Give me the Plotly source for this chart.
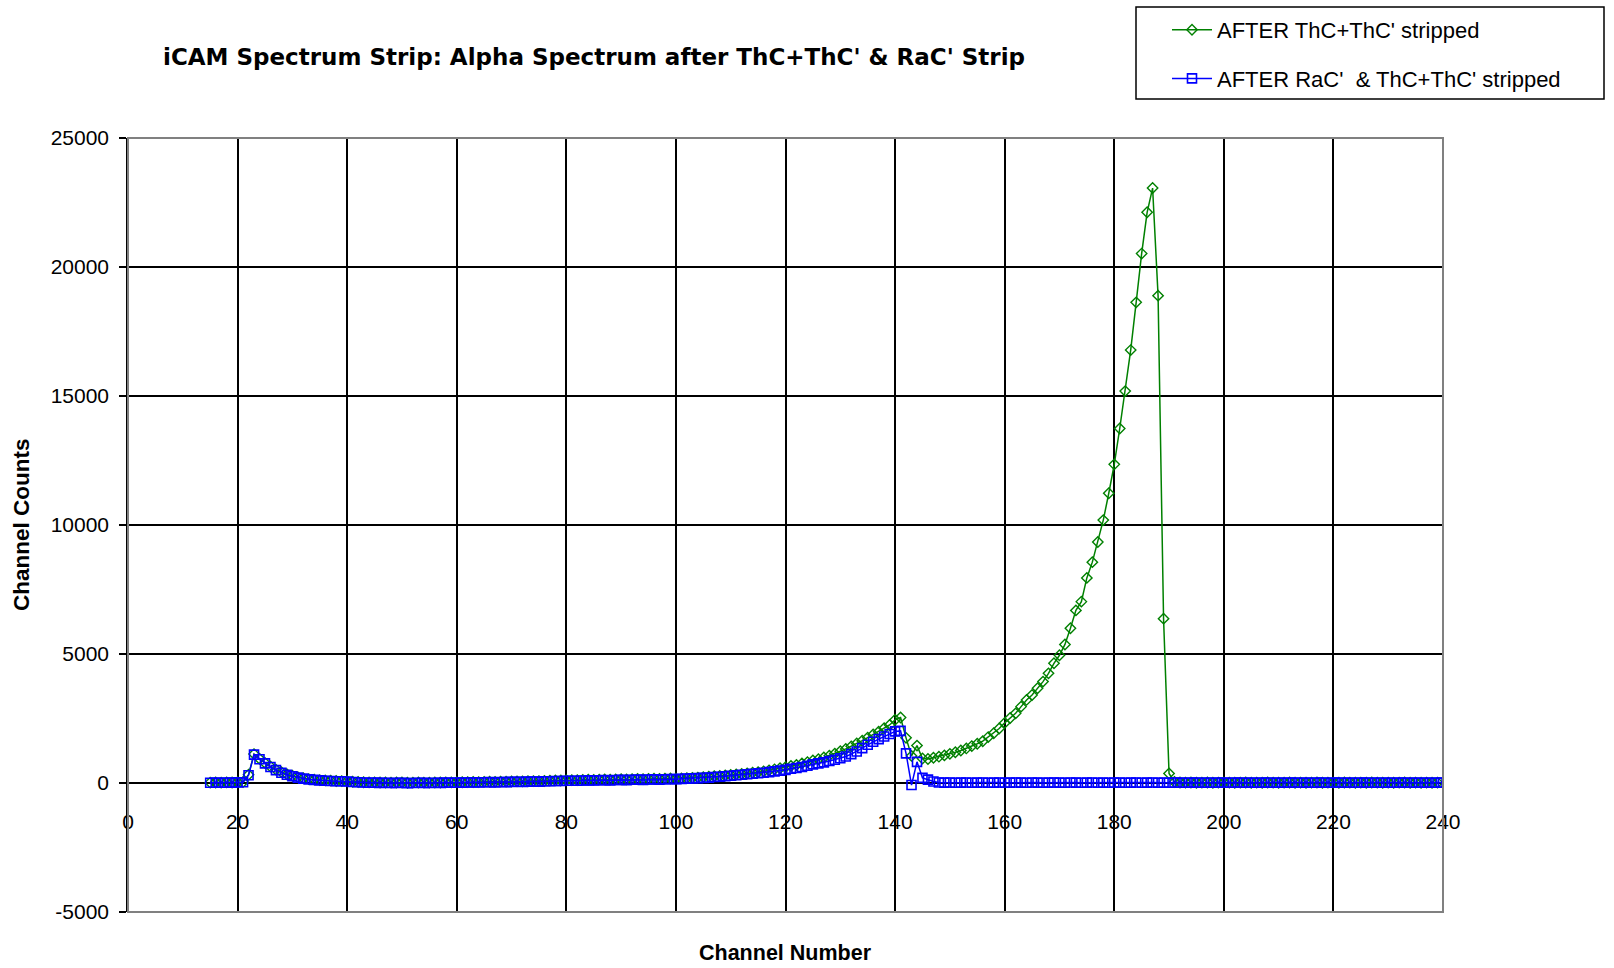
import plotly.graph_objects as go

# Channel numbers of the alpha spectrum
channels = list(range(15, 241))

# Counts per channel after the ThC + ThC' strip
counts_thc = [
    15, 20, 15, 25, 20, 30, 40, 320,
    1120, 940, 780, 640, 520, 420, 340, 280, 225, 185, 150, 130, 110, 100, 90, 80, 75, 70,
    50, 40, 30, 25, 25, 20, 20, 15, 20, 20, 10, 15, 20, 15, 15, 20, 20, 25, 25, 30,
    30, 35, 40, 35, 45, 50, 45, 55, 55, 60, 65, 65, 70, 75, 75, 80, 90, 100, 95, 105,
    110, 110, 120, 125, 120, 130, 135, 130, 140, 145, 140, 150, 155, 150, 160, 165, 160, 170, 175,
    170, 180, 190, 200, 210, 230, 240, 260, 270, 290,
    310, 330, 350, 370, 400, 420, 450, 490, 530, 570,
    610, 660, 700, 760, 810, 870, 920, 990, 1060, 1140,
    1230, 1320, 1420, 1530, 1640, 1760, 1880, 1990, 2120, 2250,
    2450, 2540, 1750, 1050, 1450, 950, 930, 980, 1020, 1070,
    1130, 1190, 1260, 1340, 1430, 1520, 1620, 1780, 1930, 2110,
    2330, 2520, 2700, 2960, 3220, 3410, 3670, 3930, 4250, 4640,
    4950, 5370, 6000, 6690, 7030, 7950, 8560, 9340, 10190, 11230,
    12350, 13740, 15190, 16780, 18630, 20520, 22120, 23060, 18890, 6370,
    370, 40, 20, 15, 20, 10, 15, 20, 10, 15,
    20, 15, 10, 15, 20, 10, 15, 10, 20, 15,
    10, 15, 20, 10, 15, 10, 15, 20, 10, 15,
    15, 10, 20, 15, 10, 15, 10, 20, 15, 10,
    15, 10, 15, 20, 10, 15, 10, 15, 10, 15,
]

# Counts per channel after the RaC' and ThC + ThC' strips
counts_rac = [
    10, 15, 10, 20, 15, 25, 30, 300,
    1100, 920, 760, 620, 500, 400, 320, 260, 210, 170, 140, 120, 100, 90, 80, 70, 65, 60,
    40, 30, 20, 10, 15, 5, 10, 0, 5, 10, -5, 0, 10, 5, 0, 10, 5, 15, 10, 20,
    15, 20, 25, 20, 30, 35, 25, 40, 35, 45, 50, 45, 55, 60, 55, 65, 70, 80, 75, 85,
    90, 85, 95, 100, 95, 105, 110, 100, 115, 120, 110, 125, 130, 120, 135, 140, 130, 145, 150,
    150, 160, 170, 180, 190, 200, 210, 230, 240, 260,
    280, 300, 320, 340, 360, 380, 400, 420, 450, 480,
    510, 550, 580, 620, 670, 720, 760, 800, 850, 900,
    960, 1030, 1120, 1220, 1350, 1480, 1600, 1700, 1800, 1900,
    2000, 2020, 1150, -80, 820, 200, 130, 60, 20, 15,
    20, 10, 15, 20, 10, 15, 20, 10, 15, 20,
    10, 15, 20, 15, 10, 20, 15, 10, 15, 20,
    15, 10, 20, 15, 10, 15, 20, 10, 15, 10,
    20, 15, 10, 15, 20, 10, 15, 20, 10, 15,
    10, 20, 15, 10, 15, 20, 10, 15, 10, 20,
    15, 10, 15, 20, 10, 15, 10, 15, 20, 10,
    15, 10, 20, 15, 10, 15, 10, 15, 20, 10,
    15, 20, 10, 15, 10, 15, 20, 10, 15, 10,
    15, 10, 20, 15, 10, 15, 10, 15, 10, 15,
    20, 10, 15,
]

x_ticks = [0, 20, 40, 60, 80, 100, 120, 140, 160, 180, 200, 220, 240]
y_ticks = [-5000, 0, 5000, 10000, 15000, 20000, 25000]

title_text = "iCAM Spectrum Strip: Alpha Spectrum after ThC+ThC' &amp; RaC' Strip"
x_title = "Channel Number"
y_title = "Channel Counts"

FONT = "Liberation Sans, Arial, sans-serif"
TITLE_FONT = "DejaVu Sans, Liberation Sans, sans-serif"
GREEN = "#008000"
BLUE = "#0000FF"

fig = go.Figure()

fig.add_trace(go.Scatter(
    x=channels, y=counts_thc, mode="lines+markers",
    name="AFTER ThC+ThC' stripped", legendgroup="a",
    line=dict(color=GREEN, width=1.5),
    marker=dict(symbol="diamond-open", size=8, color=GREEN, line=dict(width=1.4, color=GREEN)),
))
fig.add_trace(go.Scatter(
    x=channels, y=counts_rac, mode="lines+markers",
    name="AFTER RaC'  &amp; ThC+ThC' stripped", legendgroup="b",
    line=dict(color=BLUE, width=1.5),
    marker=dict(symbol="square-open", size=9, color=BLUE, line=dict(width=1.6, color=BLUE)),
))

L, R, T, B = 128, 171, 138, 56
W, H = 1614, 968
plot_w = W - L - R
plot_h = H - T - B

def px_x(p):
    return (p - L) / plot_w

def px_y(p):
    return (H - B - p) / plot_h

fig.update_layout(
    width=W, height=H,
    margin=dict(l=L, r=R, t=T, b=B, autoexpand=False),
    paper_bgcolor="white", plot_bgcolor="white",
    font=dict(family=FONT, size=20, color="black"),
    showlegend=True,
    legend=dict(
        x=px_x(1167), y=px_y(9), xanchor="left", yanchor="top",
        borderwidth=0, bgcolor="rgba(0,0,0,0)",
        font=dict(family=FONT, size=22, color="black"),
        tracegroupgap=17, itemwidth=40,
    ),
    xaxis=dict(
        range=[0, 240], tickvals=x_ticks, ticktext=[str(v) for v in x_ticks],
        showgrid=True, gridcolor="black", gridwidth=1.5,
        zeroline=False, showline=False, ticks="",
        anchor="free", position=1 / 6, ticklabelstandoff=24,
        tickfont=dict(family=FONT, size=21, color="black"),
        automargin=False,
    ),
    yaxis=dict(
        range=[-5000, 25000], tickvals=y_ticks, ticktext=[str(v) for v in y_ticks],
        showgrid=True, gridcolor="black", gridwidth=1.5,
        zeroline=True, zerolinecolor="black", zerolinewidth=1.5,
        showline=True, linecolor="black", linewidth=1.5,
        ticks="outside", ticklen=7, tickcolor="black", tickwidth=1.5,
        ticklabelstandoff=6,
        tickfont=dict(family=FONT, size=21, color="black"),
        automargin=False,
    ),
    shapes=[
        # plot-area frame
        dict(type="rect", xref="paper", yref="paper", x0=0, x1=1, y0=0, y1=1,
             line=dict(color="#808080", width=2), layer="above"),
        # legend frame
        dict(type="rect", xref="paper", yref="paper",
             x0=px_x(1136), x1=px_x(1604), y0=px_y(99), y1=px_y(7),
             line=dict(color="black", width=1.5), layer="above"),
    ],
    annotations=[
        dict(text=title_text, xref="paper", yref="paper", x=px_x(594), y=px_y(57),
             xanchor="center", yanchor="middle", showarrow=False,
             font=dict(family=TITLE_FONT, size=23, color="black", weight="bold")),
        dict(text=x_title, xref="paper", yref="paper", x=px_x(785), y=px_y(953),
             xanchor="center", yanchor="middle", showarrow=False,
             font=dict(family=FONT, size=21.5, color="black", weight="bold")),
        dict(text=y_title, xref="paper", yref="paper", x=px_x(21), y=px_y(525),
             xanchor="center", yanchor="middle", showarrow=False, textangle=-90,
             font=dict(family=FONT, size=22.5, color="black", weight="bold")),
    ],
)

fig.write_html("out.html")
